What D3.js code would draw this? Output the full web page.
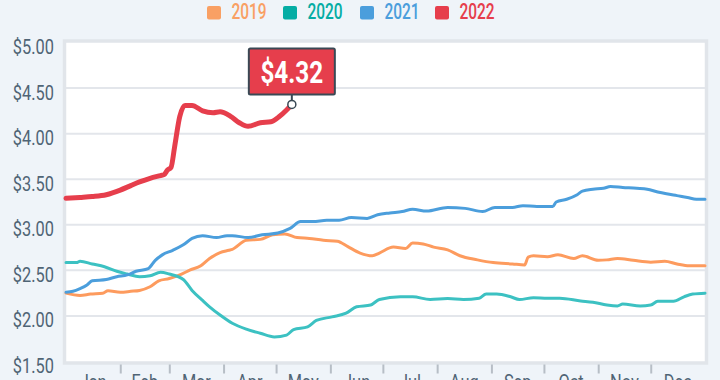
<!DOCTYPE html>
<html>
<head>
<meta charset="utf-8">
<script src="https://cdn.jsdelivr.net/npm/d3@7/dist/d3.min.js"></script>
<style>
  html, body { margin: 0; padding: 0; background: #eff4f9; }
  svg { display: block; }
</style>
</head>
<body>
<svg id="chart" width="720" height="380"></svg>
<script>
// ---------- DATA (day of year, price in USD) ----------
const seriesNames = ["2019", "2020", "2021", "2022"];
const monthLabels = ["Jan","Feb","Mar","Apr","May","Jun","Jul","Aug","Sep","Oct","Nov","Dec"];
const monthStarts = [0,31,59,90,120,151,181,212,243,273,304,334,365];
const yTicks = [1.5,2.0,2.5,3.0,3.5,4.0,4.5,5.0];

const days2019 = [0,8,14,21,24,31,37,42,48,53,59,65,71,77,82,88,93,95,103,111,118,125,132,139,147,155,161,168,175,179,187,194,198,204,210,218,225,235,244,255,262,264,267,275,281,290,295,304,309,315,324,334,342,349,356,365];
const price2019 = [2.25,2.225,2.24,2.25,2.275,2.26,2.27,2.28,2.32,2.385,2.41,2.45,2.505,2.55,2.63,2.695,2.72,2.73,2.83,2.84,2.89,2.90,2.86,2.85,2.83,2.82,2.76,2.69,2.66,2.69,2.755,2.74,2.80,2.79,2.755,2.725,2.66,2.615,2.585,2.57,2.56,2.645,2.66,2.65,2.67,2.63,2.66,2.61,2.615,2.63,2.61,2.59,2.60,2.57,2.55,2.55];

const days2020 = [0,6,8,15,22,29,35,42,48,54,59,67,72,78,82,88,95,103,111,119,126,130,138,143,152,160,166,174,179,191,198,208,218,227,236,240,246,254,259,267,275,282,294,301,309,315,318,328,334,338,347,353,358,365];
const price2020 = [2.585,2.585,2.60,2.57,2.54,2.49,2.46,2.43,2.44,2.48,2.46,2.40,2.28,2.17,2.10,2.01,1.92,1.855,1.81,1.77,1.79,1.85,1.88,1.95,1.99,2.03,2.10,2.12,2.18,2.21,2.21,2.18,2.19,2.18,2.195,2.24,2.24,2.21,2.18,2.20,2.195,2.195,2.165,2.15,2.12,2.11,2.13,2.11,2.12,2.16,2.16,2.21,2.24,2.25];

const days2021 = [0,4,8,12,15,23,29,35,40,47,51,55,61,67,72,78,86,92,95,104,112,121,128,134,141,149,156,163,172,178,185,192,198,206,218,228,238,245,255,261,269,278,280,286,292,295,301,307,311,318,326,332,338,343,349,355,360,365];
const price2021 = [2.26,2.27,2.30,2.34,2.385,2.40,2.43,2.45,2.49,2.52,2.61,2.67,2.72,2.78,2.85,2.88,2.86,2.88,2.88,2.86,2.89,2.91,2.96,3.035,3.035,3.05,3.05,3.08,3.07,3.11,3.13,3.145,3.17,3.15,3.19,3.18,3.145,3.19,3.19,3.21,3.20,3.20,3.25,3.28,3.33,3.37,3.39,3.40,3.42,3.41,3.40,3.39,3.36,3.34,3.32,3.30,3.28,3.28];

const days2022 = [0,8,15,23,31,37,42,48,54,56,58,60,62,65,68,72,78,84,88,94,99,104,111,117,122,126,129];
const price2022 = [3.29,3.30,3.31,3.33,3.38,3.43,3.47,3.51,3.54,3.55,3.60,3.63,3.85,4.19,4.31,4.31,4.25,4.23,4.24,4.19,4.12,4.08,4.12,4.13,4.19,4.26,4.32];

const lineColors = ["#fd9b5e", "#3cc1c2", "#4b9edc", "#e63e4c"];
const legendColors = ["#f9a064", "#05ada4", "#4b9edc", "#e63e4c"];
const lineWidths = [3, 3, 3, 5];

// ---------- SETUP ----------
const svg = d3.select("#chart");
const FONT = "Roboto, 'Open Sans', sans-serif";
const textColor = "#4f6475";

const x = d3.scaleLinear().domain([0, 365]).range([66, 705]);
const y = d3.scaleLinear().domain([1.5, 5]).range([361.5, 42.5]);

// condensed text helper
function ctext(parent, tx, ty, str, opts) {
  const g = parent.append("g").attr("transform", `translate(${tx},${ty}) scale(${opts.sx || 0.8},1)`);
  return g.append("text")
    .attr("x", 0).attr("y", 0)
    .attr("text-anchor", opts.anchor || "start")
    .attr("font-family", FONT)
    .attr("font-size", opts.size)
    .attr("font-weight", opts.weight || 400)
    .attr("fill", opts.fill)
    .text(str);
}

// plot frame
svg.append("rect")
  .attr("x", x(0) - 1.5).attr("y", y(5) - 1.5)
  .attr("width", x(365) - x(0) + 3).attr("height", y(1.5) - y(5) + 3)
  .attr("fill", "#ffffff")
  .attr("stroke", "#e1e5ea").attr("stroke-width", 3.5);

// gridlines
svg.append("g").selectAll("line")
  .data(yTicks.filter(t => t > 1.5 && t < 5))
  .join("line")
  .attr("x1", x(0)).attr("x2", x(365))
  .attr("y1", d => y(d)).attr("y2", d => y(d))
  .attr("stroke", "#e3e6eb").attr("stroke-width", 2);

// y labels
const yLab = svg.append("g");
yTicks.forEach(t => {
  ctext(yLab, 54, y(t) + 11.5, "$" + t.toFixed(2), {anchor: "end", size: 19.5, sx: 0.84, fill: textColor});
});

// x ticks (month boundaries) using axis
const xAxis = d3.axisBottom(x)
  .tickValues(monthStarts.slice(1, 12))
  .tickSize(9)
  .tickFormat("");
const ax = svg.append("g").attr("transform", `translate(0,${y(1.5) + 3})`).call(xAxis);
ax.select(".domain").remove();
ax.selectAll(".tick line").attr("stroke", "#b7bec6").attr("stroke-width", 2);

// month labels (partly cut by the bottom edge, as in the reference)
const mLab = svg.append("g");
monthLabels.forEach((m, i) => {
  const cx = x((monthStarts[i] + monthStarts[i + 1]) / 2);
  ctext(mLab, cx, 389, m, {anchor: "middle", size: 19.5, sx: 0.84, fill: textColor});
});

// lines
const allDays = [days2019, days2020, days2021, days2022];
const allPrices = [price2019, price2020, price2021, price2022];
const line = d3.line()
  .x(d => x(d[0]))
  .y(d => y(d[1]))
  .curve(d3.curveMonotoneX);

seriesNames.forEach((name, i) => {
  const pts = allDays[i].map((d, j) => [d, allPrices[i][j]]);
  svg.append("path")
    .datum(pts)
    .attr("fill", "none")
    .attr("stroke", lineColors[i])
    .attr("stroke-width", lineWidths[i])
    .attr("stroke-linejoin", "round")
    .attr("stroke-linecap", "round")
    .attr("d", line);
});

// legend
const legend = svg.append("g");
const legendX = [207, 283, 360, 435];
seriesNames.forEach((name, i) => {
  legend.append("rect")
    .attr("x", legendX[i]).attr("y", 6)
    .attr("width", 14).attr("height", 13.5).attr("rx", 2)
    .attr("fill", legendColors[i]);
  ctext(legend, legendX[i] + 24.5, 19, name, {size: 21.5, sx: 0.72, weight: 500, fill: legendColors[i]});
});

// tooltip on last 2022 point
const lastD = days2022[days2022.length - 1];
const lastV = price2022[price2022.length - 1];
const px = x(lastD), py = y(lastV);
const tip = svg.append("g");
const bw = 86, bh = 46;
tip.append("line")
  .attr("x1", px).attr("x2", px)
  .attr("y1", py - 10).attr("y2", py - 3)
  .attr("stroke", "#3a4955").attr("stroke-width", 2);
tip.append("rect")
  .attr("x", px - bw / 2).attr("y", py - 10 - bh)
  .attr("width", bw).attr("height", bh).attr("rx", 1.5)
  .attr("fill", "#e63e4c")
  .attr("stroke", "#3a4955").attr("stroke-width", 2);
ctext(tip, px, py - 10 - bh + 35, "$" + lastV.toFixed(2), {anchor: "middle", size: 32, sx: 0.76, weight: 700, fill: "#ffffff"});
tip.append("circle")
  .attr("cx", px).attr("cy", py).attr("r", 4)
  .attr("fill", "#ffffff").attr("stroke", "#3a4955").attr("stroke-width", 1.5);
</script>
</body>
</html>
